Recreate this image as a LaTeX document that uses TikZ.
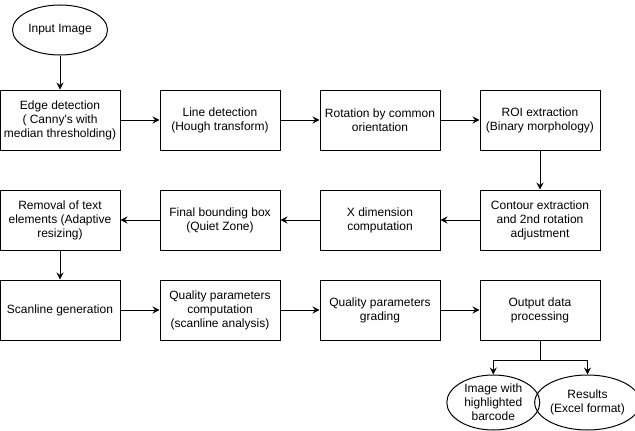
\documentclass[tikz,border=0pt]{standalone}
\usepackage{fontspec}
\setmainfont{Liberation Sans}
\usetikzlibrary{arrows.meta,shapes.geometric}
\begin{document}
\begin{tikzpicture}[x=1pt,y=-1pt,
  every node/.style={font=\fontsize{12}{14}\selectfont, align=center},
  box/.style={draw, line width=1pt, minimum width=120pt, minimum height=60pt, inner sep=1pt},
  oval/.style={draw, ellipse, line width=1pt, inner sep=0pt},
  conn/.style={line width=1pt, -{Stealth[length=7pt,width=7pt,inset=2.5pt]}}]
\useasboundingbox (0,0) rectangle (635,431);
\node[oval, minimum width=95pt, minimum height=50pt] (in) at (60,30) {Input Image};
\node[box] (edge) at (60,120) {Edge detection\\( Canny\textquotesingle s with\\median thresholding)};
\node[box] (line) at (220,120) {Line detection\\(Hough transform)};
\node[box] (rot) at (380,120) {Rotation by common\\orientation};
\node[box] (roi) at (540,120) {ROI extraction\\(Binary morphology)};
\node[box] (cont) at (540,220) {Contour extraction\\and 2nd rotation\\adjustment};
\node[box] (xdim) at (380,220) {X dimension\\computation};
\node[box] (fbb) at (220,220) {Final bounding box\\(Quiet Zone)};
\node[box] (rem) at (60,220) {Removal of text\\elements (Adaptive\\resizing)};
\node[box] (scan) at (60,310) {Scanline generation};
\node[box] (qpc) at (220,310) {Quality parameters\\computation\\(scanline analysis)};
\node[box] (qpg) at (380,310) {Quality parameters\\grading};
\node[box] (out) at (540,310) {Output data\\processing};
\node[oval, minimum width=93pt, minimum height=55pt] (img) at (493.3,402.5) {Image with\\highlighted\\barcode};
\node[oval, minimum width=95pt, minimum height=55pt] (res) at (587.5,402.5) {Results\\(Excel format)};
\coordinate (split) at (540,360);
\draw[conn] (in) -- (edge);
\draw[conn] (edge) -- (line);
\draw[conn] (line) -- (rot);
\draw[conn] (rot) -- (roi);
\draw[conn] (roi) -- (cont);
\draw[conn] (cont) -- (xdim);
\draw[conn] (xdim) -- (fbb);
\draw[conn] (fbb) -- (rem);
\draw[conn] (rem) -- (scan);
\draw[conn] (scan) -- (qpc);
\draw[conn] (qpc) -- (qpg);
\draw[conn] (qpg) -- (out);
\draw[line width=1pt] (out.south) -- (split);
\draw[conn] (split) -| (img.north);
\draw[conn] (split) -| (res.north);
\end{tikzpicture}
\end{document}
